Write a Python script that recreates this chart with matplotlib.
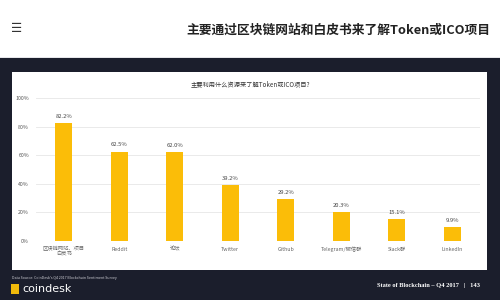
import matplotlib
matplotlib.use("Agg")
import matplotlib.pyplot as plt
from matplotlib.patches import Rectangle

plt.rcParams['font.family'] = ['Noto Sans CJK SC', 'DejaVu Sans']

categories = ["区块链网站、项目\n白皮书", "Reddit", "论坛", "Twitter", "Github",
              "Telegram/微信群", "Slack群", "LinkedIn"]
values = [82.2, 62.5, 62.0, 39.2, 29.2, 20.3, 15.1, 9.9]
yticks = [0, 20, 40, 60, 80, 100]
ytick_labels = ["0%", "20%", "40%", "60%", "80%", "100%"]

header_title = "主要通过区块链网站和白皮书来了解Token或ICO项目"
chart_title = "主要利用什么资源来了解Token或ICO项目?"
source_text = "Data Source: CoinDesk's Q4 2017 Blockchain Sentiment Survey"
footer_right = "State of Blockchain – Q4 2017   |   143"

W, H = 500, 300
fig = plt.figure(figsize=(5, 3), dpi=100)
fig.patch.set_facecolor("white")

def fx(px): return px / W
def fy(py): return 1 - py / H

# dark slide background
fig.patches.append(Rectangle((0, 0), 1, fy(57), transform=fig.transFigure,
                             facecolor="#1b1e2c", edgecolor="none", zorder=0))
# white panel
fig.patches.append(Rectangle((fx(12), fy(270)), fx(475), (270 - 72) / H,
                             transform=fig.transFigure, facecolor="white",
                             edgecolor="none", zorder=1))
# separator line under header
fig.patches.append(Rectangle((0, fy(58)), 1, 1.0 / H, transform=fig.transFigure,
                             facecolor="#e6e6ea", edgecolor="none", zorder=1))

# header
fig.text(fx(11), fy(28), "☰", fontsize=9, color="#333333", va="center", ha="left",
         family=["DejaVu Sans"])
fig.text(fx(490), fy(30), header_title, fontsize=9.2, fontweight="bold",
         color="#222222", va="center", ha="right")

# chart
ax = fig.add_axes([fx(36), fy(241), 444 / W, (241 - 98) / H])
ax.set_zorder(2)
ax.patch.set_alpha(0)
x = list(range(len(categories)))
ax.bar(x, values, width=0.31, color="#fbbd08", zorder=3)
for xi, v in zip(x, values):
    ax.text(xi, v + 3, f"{v:.1f}%", ha="center", va="bottom", fontsize=4.2,
            color="#444444")
ax.set_xlim(-0.5, 7.5)
ax.set_ylim(0, 100)
ax.set_yticks(yticks)
ax.set_yticklabels(ytick_labels, fontsize=3.8, color="#555555")
ax.set_xticks(x)
ax.set_xticklabels(categories, fontsize=3.8, color="#666666", linespacing=1.1)
ax.tick_params(axis="both", length=0, pad=5)
ax.tick_params(axis="x", pad=4)
ax.grid(axis="y", color="#e6e6e6", linewidth=0.6, zorder=0)
for s in ax.spines.values():
    s.set_visible(False)

fig.text(fx(250), fy(84), chart_title, fontsize=4.5, color="#333333",
         ha="center", va="center")

# footer
fig.text(fx(12), fy(278), source_text, fontsize=2.6, color="#cfcfd6",
         ha="left", va="center")
fig.text(fx(22), fy(289), "coindesk", fontsize=8, color="white",
         ha="left", va="center", family=["DejaVu Sans"])
fig.patches.append(Rectangle((fx(11), fy(294)), fx(8), 10 / H,
                             transform=fig.transFigure, facecolor="#f0b90b",
                             edgecolor="none", zorder=2))
fig.text(fx(480), fy(285), footer_right, fontsize=4.6, color="white",
         ha="right", va="center", family=["Liberation Serif", "DejaVu Serif"],
         fontweight="bold")

fig.savefig("out.png", dpi=100)
